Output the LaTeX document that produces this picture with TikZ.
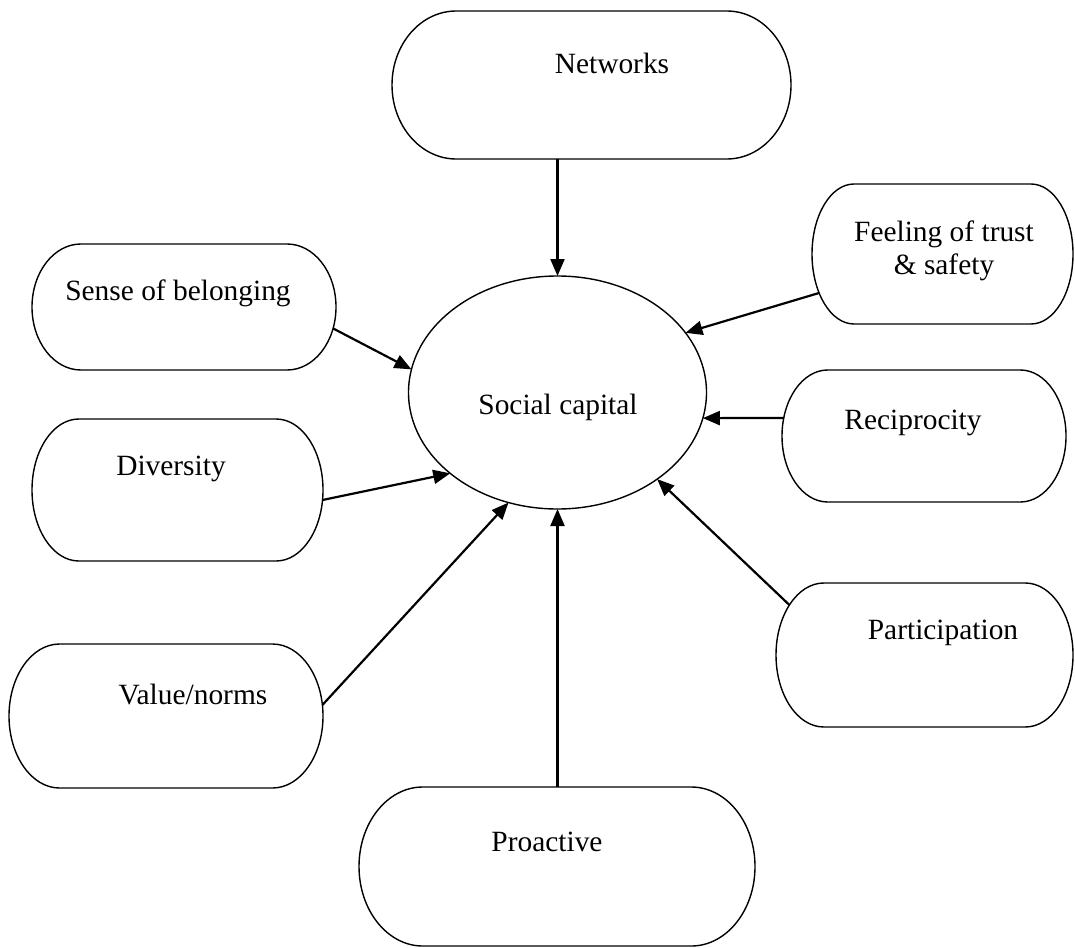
\documentclass[tikz,border=0pt]{standalone}
\usepackage{fontspec}
\setmainfont{Liberation Serif}
\usetikzlibrary{calc,arrows.meta,shapes.geometric}
\newcommand\termbox[5]{%
  \node[tbox, minimum width=#4*0.5pt, minimum height=#5*0.5pt] (#1) at (#2,#3) {};
  \pgfmathsetmacro\trx{#4*0.1609*0.5}%
  \pgfmathsetmacro\try{#5*0.25}%
  \draw[boxline] ([xshift=\trx pt]#1.north west) -- ([xshift=-\trx pt]#1.north east)
     arc[start angle=90,end angle=-90,x radius=\trx pt,y radius=\try pt]
     -- ([xshift=\trx pt]#1.south west)
     arc[start angle=270,end angle=90,x radius=\trx pt,y radius=\try pt] -- cycle;
}
\begin{document}
\begin{tikzpicture}[x=0.5pt,y=-0.5pt,
  tbox/.style={rectangle,draw=none,inner sep=0pt,outer sep=0pt},
  boxline/.style={line width=0.7pt,black},
  lbl/.style={inner sep=0pt,font=\fontsize{14.7}{16.5}\selectfont,align=center},
  arr/.style={line width=1.1pt,-{Triangle[length=8.5pt,width=7pt]}}]
\fill[white] (0,0) rectangle (1075,947);
\useasboundingbox (0,0) rectangle (1075,947);

% central ellipse
\node[draw,ellipse,line width=0.7pt,inner sep=0pt,outer sep=0pt,
      minimum width=298*0.5pt,minimum height=233*0.5pt] (sc) at (557.5,392.5) {};
\node[lbl] (scT) at (558,407) {Social capital};

% boxes
\termbox{net}{591.5}{85}{399}{148}
\termbox{feel}{942.5}{254}{261}{140}
\termbox{sense}{184}{307}{304}{126}
\termbox{recip}{924}{436}{284}{132}
\termbox{div}{177.5}{490}{291}{142}
\termbox{val}{166}{716}{314}{144}
\termbox{part}{924.5}{655}{297}{144}
\termbox{pro}{557}{866.5}{396}{159}

% labels
\node[lbl] (netT) at (612,63) {Networks};
\node[lbl] (feelT) at (944,251) {Feeling of trust\\ \& safety};
\node[lbl] (senseT) at (178,293) {Sense of belonging};
\node[lbl] (recipT) at (913,423) {Reciprocity};
\node[lbl] (divT) at (171,469) {Diversity};
\node[lbl] (valT) at (193,695) {Value/norms};
\node[lbl] (partT) at (943,633) {Participation};
\node[lbl] (proT) at (547,842) {Proactive};

% connectors
\draw[arr] ($(net.south)+(-34,0)$) -- (sc.north);
\draw[arr] ($(feel)+(-123.5,39)$) -- (sc.25.5);
\draw[arr] ($(sense)+(149.2,21.5)$) -- (sc.171.1);
\draw[arr] ($(recip)+(-140,-18)$) -- (sc.-10);
\draw[arr] ($(div)+(145,10)$) -- (sc.217.8);
\draw[arr] ($(part)+(-135.1,-50)$) -- (sc.-41.8);
\draw[arr] ($(val)+(156.4,-11)$) -- (sc.246.9);
\draw[arr] ($(pro.north)+(0.5,0)$) -- (sc.south);
\end{tikzpicture}
\end{document}
